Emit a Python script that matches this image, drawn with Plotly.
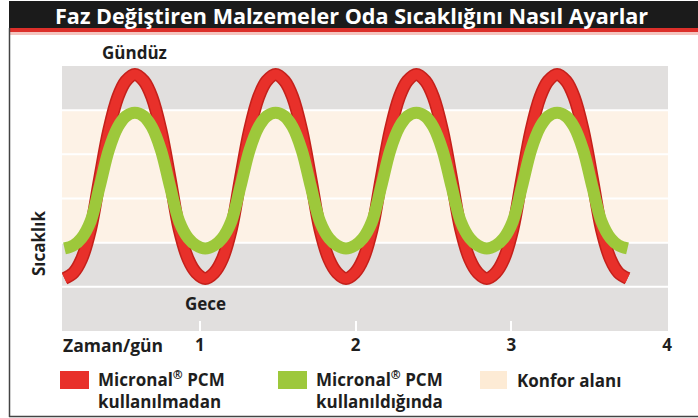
import plotly.graph_objects as go

# ---------------- data ----------------
time_days = [0.130, 0.188, 0.239, 0.297, 0.356, 0.415, 0.473, 0.524,
             0.582, 0.640, 0.691, 0.749, 0.808, 0.867, 0.925, 0.976,
             1.034, 1.092, 1.143, 1.201, 1.260, 1.319, 1.377, 1.428,
             1.486, 1.544, 1.595, 1.653, 1.712, 1.771, 1.829, 1.880,
             1.938, 1.996, 2.047, 2.105, 2.164, 2.223, 2.281, 2.332,
             2.390, 2.448, 2.499, 2.557, 2.616, 2.675, 2.733, 2.784,
             2.842, 2.900, 2.951, 3.009, 3.068, 3.127, 3.185, 3.236,
             3.294, 3.352, 3.403, 3.461, 3.520, 3.579, 3.637, 3.688,
             3.746]
temp_without_pcm = [1.19, 1.32, 1.62, 2.30, 3.45, 4.55, 5.30, 5.66,
                    5.81, 5.66, 5.30, 4.55, 3.45, 2.30, 1.62, 1.32,
                    1.19, 1.32, 1.62, 2.30, 3.45, 4.55, 5.30, 5.66,
                    5.81, 5.66, 5.30, 4.55, 3.45, 2.30, 1.62, 1.32,
                    1.19, 1.32, 1.62, 2.30, 3.45, 4.55, 5.30, 5.66,
                    5.81, 5.66, 5.30, 4.55, 3.45, 2.30, 1.62, 1.32,
                    1.19, 1.32, 1.62, 2.30, 3.45, 4.55, 5.30, 5.66,
                    5.81, 5.66, 5.30, 4.55, 3.45, 2.30, 1.62, 1.32,
                    1.19]
temp_with_pcm = [1.87, 1.94, 2.10, 2.48, 3.27, 4.10, 4.62, 4.86,
                 4.94, 4.86, 4.62, 4.10, 3.27, 2.48, 2.10, 1.94,
                 1.87, 1.94, 2.10, 2.48, 3.27, 4.10, 4.62, 4.86,
                 4.94, 4.86, 4.62, 4.10, 3.27, 2.48, 2.10, 1.94,
                 1.87, 1.94, 2.10, 2.48, 3.27, 4.10, 4.62, 4.86,
                 4.94, 4.86, 4.62, 4.10, 3.27, 2.48, 2.10, 1.94,
                 1.87, 1.94, 2.10, 2.48, 3.27, 4.10, 4.62, 4.86,
                 4.94, 4.86, 4.62, 4.10, 3.27, 2.48, 2.10, 1.94,
                 1.87]

band_edges = [0, 1, 2, 3, 4, 5, 6]
band_kind = ["night", "night", "comfort", "comfort", "comfort", "day"]

tick_vals = [1, 2, 3, 4]
tick_text = ["1", "2", "3", "4"]

title_text = "Faz Değiştiren Malzemeler Oda Sıcaklığını Nasıl Ayarlar"
y_title = "Sıcaklık"
x_title = "Zaman/gün"
day_label = "Gündüz"
night_label = "Gece"
day_label_x = 0.582
night_label_x = 1.034
legend_labels = ["Micronal<sup>®</sup> PCM<br>kullanılmadan",
                 "Micronal<sup>®</sup> PCM<br>kullanıldığında",
                 "Konfor alanı"]

# ---------------- styles ----------------
W_IMG, H_IMG = 698, 418
L, R, T, B = 62, 668, 66, 331
PW, PH = R - L, B - T

RED = "#e8302a"
RED_EDGE = "#c4201b"
GREEN = "#9dc83b"
GRAY_BAND = "#e1dfde"
BEIGE_BAND = "#fdf2e6"
BEIGE_LEG = "#fdebd5"
TXT = "#1e1e1e"
FONT = "Open Sans"

band_color = {"night": GRAY_BAND, "comfort": BEIGE_BAND, "day": GRAY_BAND}


def fx(p):
    return (p - L) / PW


def fy(p):
    return (B - p) / PH


fig = go.Figure()

fig.add_trace(go.Scatter(x=time_days, y=temp_without_pcm, mode="lines",
                         line=dict(color=RED_EDGE, width=13, shape="spline", smoothing=1.0),
                         hoverinfo="skip", showlegend=False))
fig.add_trace(go.Scatter(x=time_days, y=temp_without_pcm, mode="lines",
                         line=dict(color=RED, width=10, shape="spline", smoothing=1.0),
                         showlegend=False))
fig.add_trace(go.Scatter(x=time_days, y=temp_with_pcm, mode="lines",
                         line=dict(color=GREEN, width=12, shape="spline", smoothing=1.0),
                         showlegend=False))

shapes = []
# background bands
for lo, hi, kind in zip(band_edges[:-1], band_edges[1:], band_kind):
    shapes.append(dict(type="rect", xref="paper", yref="y", x0=0, x1=1, y0=lo, y1=hi,
                       fillcolor=band_color[kind], line=dict(width=0), layer="below"))
for e in band_edges[1:-1]:
    shapes.append(dict(type="line", xref="paper", yref="y", x0=0, x1=1, y0=e, y1=e,
                       line=dict(color="white", width=2), layer="below"))

# title bar
shapes.append(dict(type="rect", xref="paper", yref="paper", x0=fx(9), x1=fx(698),
                   y0=fy(1), y1=fy(28), fillcolor="#1b1b1b", line=dict(width=0)))
shapes.append(dict(type="rect", xref="paper", yref="paper", x0=fx(9), x1=fx(698),
                   y0=fy(28), y1=fy(32), fillcolor="#dc2f2a", line=dict(width=0)))
shapes.append(dict(type="rect", xref="paper", yref="paper", x0=fx(9), x1=fx(698),
                   y0=fy(32), y1=fy(35), fillcolor="#f4c4bf", line=dict(width=0)))
# frame
shapes.append(dict(type="line", xref="paper", yref="paper", x0=fx(9.5), x1=fx(9.5),
                   y0=fy(28), y1=fy(417), line=dict(color="#444444", width=1.5)))
shapes.append(dict(type="line", xref="paper", yref="paper", x0=fx(9), x1=fx(698),
                   y0=fy(416.5), y1=fy(416.5), line=dict(color="#444444", width=1.5)))

# legend swatches
legend_colors = [RED, GREEN, BEIGE_LEG]
legend_x = [60, 278, 480]
legend_w = [29, 29, 27]
for c, x0, w in zip(legend_colors, legend_x, legend_w):
    shapes.append(dict(type="rect", xref="paper", yref="paper", x0=fx(x0), x1=fx(x0 + w),
                       y0=fy(371), y1=fy(389), fillcolor=c, line=dict(width=0)))


def txt(size):
    return dict(family=FONT, size=size, color=TXT, weight="bold")


annotations = []
annotations.append(dict(text=title_text, xref="paper", yref="paper",
                        x=fx(351), y=fy(15), xanchor="center", yanchor="middle",
                        showarrow=False, font=dict(family=FONT, size=21.6, color="white", weight="bold")))
annotations.append(dict(text=day_label, xref="x", yref="paper",
                        x=day_label_x, y=fy(52), xanchor="center", yanchor="middle",
                        showarrow=False, font=txt(17)))
annotations.append(dict(text=night_label, xref="x", yref="paper",
                        x=night_label_x, y=fy(303), xanchor="center", yanchor="middle",
                        showarrow=False, font=txt(17)))
annotations.append(dict(text=y_title, xref="paper", yref="paper",
                        x=fx(38), y=fy(244), xanchor="center", yanchor="middle", textangle=-90,
                        showarrow=False, font=txt(17)))
annotations.append(dict(text=x_title, xref="paper", yref="paper",
                        x=fx(61), y=fy(345), xanchor="left", yanchor="middle",
                        showarrow=False, font=txt(17.5)))
legend_text_x = [96, 314, 515]
for t, x0 in zip(legend_labels, legend_text_x):
    two = "<br>" in t
    annotations.append(dict(text=t, xref="paper", yref="paper",
                            x=fx(x0), y=fy(389 if two else 380), xanchor="left", yanchor="middle",
                            align="left", showarrow=False, font=txt(17)))

fig.update_layout(
    width=W_IMG, height=H_IMG,
    margin=dict(l=L, r=W_IMG - R, t=T, b=H_IMG - B, pad=0),
    paper_bgcolor="white", plot_bgcolor="white",
    shapes=shapes, annotations=annotations, showlegend=False,
    xaxis=dict(range=[0.114, 4.006], tickvals=tick_vals, ticktext=tick_text,
               ticks="inside", ticklen=10, tickwidth=2, tickcolor="white",
               ticklabelstandoff=2,
               showgrid=False, zeroline=False, showline=False, fixedrange=True,
               tickfont=txt(17)),
    yaxis=dict(range=[0, 6], visible=False, fixedrange=True),
)

fig.write_html("out.html", config={"displayModeBar": False},
               post_script="document.body.style.margin='0';document.body.style.overflow='hidden';")
